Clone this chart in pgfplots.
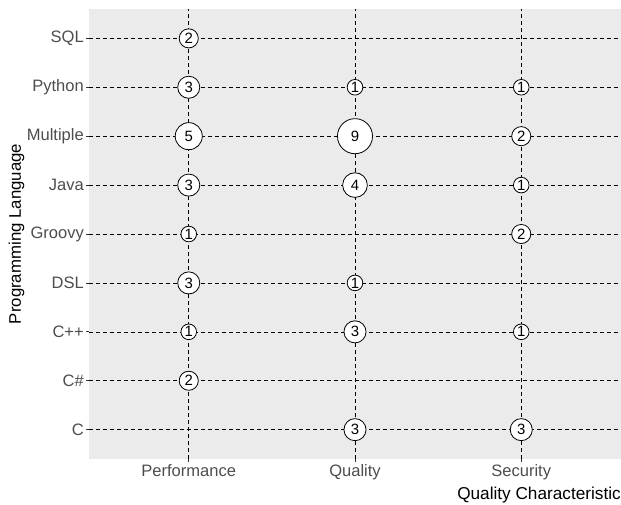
\documentclass[border=0pt]{standalone}
\usepackage{pgfplots}
\pgfplotsset{compat=1.18}
\usepackage{fontspec}
\setmainfont{Liberation Sans}
\definecolor{panel}{RGB}{235,235,235}
\definecolor{ticktext}{RGB}{77,77,77}
\definecolor{tickc}{RGB}{51,51,51}
\begin{document}
\begin{tikzpicture}[x=1pt,y=1pt]
\useasboundingbox (-66.75,-33.75) rectangle (399,344.25);
\begin{axis}[
  at={(0,0)}, anchor=south west,
  scale only axis, width=399pt, height=337.5pt,
  xmin=-0.6, xmax=2.6, ymin=-0.6, ymax=8.6,
  xtick={0,1,2}, xticklabels={Performance,Quality,Security},
  ytick={0,1,2,3,4,5,6,7,8},
  yticklabels={C,C\#,C++,DSL,Groovy,Java,Multiple,Python,SQL},
  axis background/.style={fill=panel},
  axis line style={draw=none},
  xmajorgrids, ymajorgrids,
  major grid style={black, line width=0.45pt, dash pattern=on 3pt off 2.25pt},
  tick align=outside, xtick pos=left, ytick pos=left,
  major tick length=2.2pt,
  tick style={tickc, line width=0.5pt},
  ticklabel style={font=\fontsize{12.4}{14}\selectfont, text=ticktext},
  yticklabel style={inner sep=1.5pt},
  xticklabel style={inner sep=2pt},
  ylabel={Programming Language},
  ylabel style={at={(axis description cs:-0.136,0.5)}, anchor=center, font=\fontsize{12.6}{14}\selectfont, text=black},
  xlabel={Quality Characteristic},
  xlabel style={at={(axis description cs:1,-0.0911)}, anchor=base east, inner sep=0pt, font=\fontsize{12.9}{14}\selectfont, text=black},
  clip=false,
]
\addplot[
  only marks, mark=*, mark options={draw=none, fill=none},
  point meta=explicit symbolic,
  visualization depends on={\thisrow{n} \as \cnt},
  nodes near coords,
  every node near coord/.append style={
    circle, draw=black, fill=white, line width=0.6pt, inner sep=0pt,
    minimum size={1.5*(sqrt(37+32*\cnt)-0.5)*1pt},
    font=\fontsize{11.2}{12}\selectfont, text=black, anchor=center},
] table[x=x, y=y, meta=n] {
x y n
0 8 2
0 7 3
0 6 5
0 5 3
0 4 1
0 3 3
0 2 1
0 1 2
1 7 1
1 6 9
1 5 4
1 3 1
1 2 3
1 0 3
2 7 1
2 6 2
2 5 1
2 4 2
2 2 1
2 0 3
};
\end{axis}
\end{tikzpicture}
\end{document}
